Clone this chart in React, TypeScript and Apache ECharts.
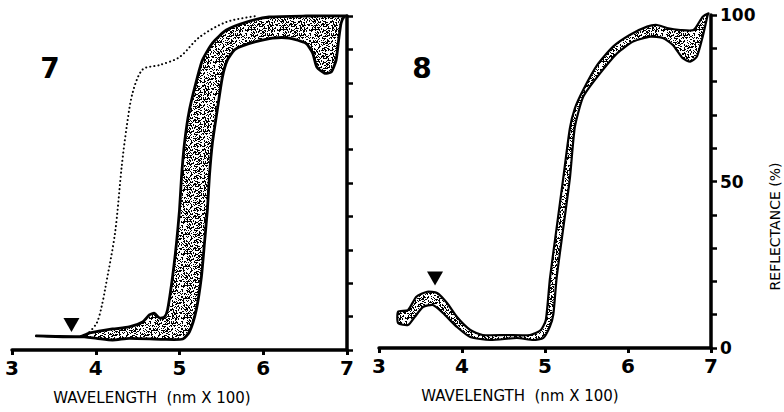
import React, { useEffect, useRef } from 'react';
import * as echarts from 'echarts';

// ---- data ----
const xTickValues = [3, 4, 5, 6, 7];
const yLabelValues = [0, 50, 100];
const panelLabels = ['7', '8'];
const xAxisName = 'WAVELENGTH  (nm X 100)';
const yAxisName = 'REFLECTANCE (%)';

// Panel 7: shaded band (upper edge, lower edge), dotted curve, arrow
const band7Upper: number[][] = [
  [3.29, 4.2], [3.81, 4.0], [3.93, 5.1], [4.2, 6.3], [4.4, 6.9], [4.56, 8.4], [4.64, 10.5],
  [4.7, 11], [4.76, 9.6], [4.82, 9.9], [4.857, 12], [4.917, 21.9], [4.964, 32], [5.0, 41.9],
  [5.024, 51.8], [5.06, 62], [5.119, 71.9], [5.214, 81.7], [5.274, 86.8], [5.393, 91.9],
  [5.56, 95.8], [5.8, 98.2], [6.07, 99.7], [6.51, 100], [7.0, 100],
];
const band7Lower: number[][] = [
  [3.29, 4.2], [3.81, 4.0], [4.01, 3.5], [4.2, 3.0], [4.4, 3.5], [4.8, 3.2], [5.04, 3.3],
  [5.12, 5.5], [5.2, 12], [5.262, 22], [5.298, 32], [5.333, 42], [5.357, 52], [5.393, 62],
  [5.452, 72], [5.512, 81.7], [5.571, 86.8], [5.655, 89.8], [5.75, 91], [5.91, 92.3],
  [6.11, 93.4], [6.31, 93.4], [6.51, 91.8], [6.59, 88.9], [6.64, 84.7], [6.73, 82.9],
  [6.81, 83.2], [6.87, 86.8], [6.9, 92.8], [6.93, 97.9], [6.97, 100],
];
const dotted7: number[][] = [
  [3.89, 4.5], [4.01, 8], [4.07, 13], [4.11, 18], [4.23, 35], [4.31, 55], [4.37, 67],
  [4.44, 77], [4.56, 84], [4.76, 85.3], [5.0, 87.7], [5.24, 93.7], [5.56, 98.2], [5.92, 100],
];
const arrow7: number[][] = [[3.71, 7.5]];

// Panel 8
const band8Upper: number[][] = [
  [3.23, 10.9], [3.35, 11.4], [3.45, 15.4], [3.58, 16.9], [3.7, 16.5], [3.82, 13.5],
  [3.94, 9.3], [4.1, 5.4], [4.25, 3.9], [4.54, 3.9], [4.82, 3.9], [4.95, 5.4], [5.01, 8.4],
  [5.06, 21], [5.14, 36], [5.22, 51], [5.3, 66], [5.36, 72], [5.46, 77.5], [5.63, 85],
  [5.82, 90.5], [6.02, 94], [6.23, 96.5], [6.35, 97], [6.47, 96.1], [6.63, 95.5],
  [6.79, 95.5], [6.9, 99.5], [6.97, 100.5],
];
const band8Lower: number[][] = [
  [3.23, 7.5], [3.35, 6.9], [3.43, 9.3], [3.53, 12.3], [3.65, 12.9], [3.77, 10.5],
  [3.94, 6.3], [4.1, 3.3], [4.34, 2.4], [4.66, 3], [4.86, 2.4], [4.98, 3], [5.06, 6.5],
  [5.1, 10], [5.14, 21], [5.22, 36], [5.3, 51], [5.36, 66.4], [5.46, 75.4], [5.63, 81.4],
  [5.87, 88.5], [6.06, 92], [6.27, 93.5], [6.42, 93.1], [6.54, 91], [6.66, 87], [6.75, 86],
  [6.83, 87.5], [6.9, 93.5], [6.96, 100],
];
const arrow8: number[][] = [[3.675, 20.9]];

const FONT = 'DejaVu Sans';

function makeStipple(): any {
  const size = 32;
  const c = document.createElement('canvas');
  c.width = size;
  c.height = size;
  const ctx = c.getContext('2d')!;
  ctx.fillStyle = '#ffffff';
  ctx.fillRect(0, 0, size, size);
  ctx.fillStyle = '#000000';
  for (let y = 0; y < size; y++) {
    for (let x = 0; x < size; x++) {
      let h = Math.imul(x * 374761393 + y * 668265263, 1274126177) >>> 0;
      h = Math.imul(h ^ (h >>> 13), 1103515245) >>> 0;
      if ((h & 1023) / 1024 < 0.4) ctx.fillRect(x, y, 1, 1);
    }
  }
  return { image: c.toDataURL(), repeat: 'repeat', imageWidth: size, imageHeight: size };
}

function bandSeries(upper: number[][], lower: number[][], gridIdx: number, lw: number, fill: any) {
  const pts = upper.concat(lower.slice().reverse());
  return {
    type: 'custom',
    xAxisIndex: gridIdx,
    yAxisIndex: gridIdx,
    data: pts,
    silent: true,
    renderItem: (params: any, api: any) => {
      if (params.dataIndex !== 0) return null;
      const points = pts.map((p) => api.coord(p));
      return {
        type: 'polygon',
        shape: { points, smooth: 0.2 },
        style: { fill, stroke: '#000', lineWidth: lw, lineJoin: 'round' },
      };
    },
  };
}

export default function App() {
  const ref = useRef<HTMLDivElement>(null);
  useEffect(() => {
    if (!ref.current) return;
    const chart = echarts.init(ref.current, undefined, { renderer: 'svg' });
    const stipple = makeStipple();
    const grids = [
      { left: 12, top: 16, width: 335, height: 334 },
      { left: 379, top: 15, width: 332, height: 333 },
    ];
    const xAxes = [0, 1].map((i) => ({
      type: 'value',
      gridIndex: i,
      min: xTickValues[0],
      max: xTickValues[xTickValues.length - 1],
      interval: 1,
      axisLine: { show: true, lineStyle: { color: '#000', width: 3.5 } },
      axisTick: { show: true, length: 5, lineStyle: { color: '#000', width: 3 } },
      axisLabel: { color: '#000', fontFamily: FONT, fontWeight: 'bold', fontSize: 20, margin: 8 },
      splitLine: { show: false },
      name: xAxisName,
      nameLocation: 'middle',
      nameGap: 40,
      nameTextStyle: {
        color: '#000', fontFamily: FONT, fontSize: 15,
        padding: i === 0 ? [0, 55, 0, 0] : [0, 50, 0, 0],
      },
    }));
    const yAxes = [0, 1].map((i) => ({
      type: 'value',
      gridIndex: i,
      position: 'right',
      min: 0,
      max: 100,
      interval: 10,
      axisLine: { show: true, lineStyle: { color: '#000', width: 3.5 } },
      axisTick: { show: true, length: 6, lineStyle: { color: '#000', width: 2.5 } },
      axisLabel: {
        show: i === 1,
        color: '#000', fontFamily: FONT, fontWeight: 'bold', fontSize: 17, margin: 9,
        formatter: (v: number) => (yLabelValues.includes(v) ? String(v) : ''),
      },
      splitLine: { show: false },
      name: i === 1 ? yAxisName : '',
      nameLocation: 'middle',
      nameRotate: 90,
      nameGap: 57,
      nameTextStyle: {
        color: '#000', fontFamily: FONT, fontSize: 14,
        padding: [0, 90, 0, 0],
      },
    }));
    const option: any = {
      animation: false,
      backgroundColor: '#ffffff',
      grid: grids,
      xAxis: xAxes,
      yAxis: yAxes,
      graphic: [
        {
          type: 'text', x: 50, y: 68,
          style: { text: panelLabels[0], fontFamily: FONT, fontWeight: 'bold', fontSize: 28, fill: '#000', align: 'center', verticalAlign: 'middle', textAlign: 'center', textVerticalAlign: 'middle' },
        },
        {
          type: 'text', x: 422, y: 68,
          style: { text: panelLabels[1], fontFamily: FONT, fontWeight: 'bold', fontSize: 28, fill: '#000', align: 'center', verticalAlign: 'middle', textAlign: 'center', textVerticalAlign: 'middle' },
        },
      ],
      series: [
        {
          type: 'line',
          xAxisIndex: 0,
          yAxisIndex: 0,
          data: dotted7,
          smooth: 0.3,
          showSymbol: false,
          silent: true,
          lineStyle: { color: '#000', width: 2, type: [0.1, 4], cap: 'round' },
        },
        bandSeries(band7Upper, band7Lower, 0, 2.8, stipple),
        bandSeries(band8Upper, band8Lower, 1, 2.2, stipple),
        {
          type: 'scatter', xAxisIndex: 0, yAxisIndex: 0, data: arrow7,
          symbol: 'triangle', symbolRotate: 180, symbolSize: [16, 14],
          itemStyle: { color: '#000', opacity: 1 }, silent: true,
        },
        {
          type: 'scatter', xAxisIndex: 1, yAxisIndex: 1, data: arrow8,
          symbol: 'triangle', symbolRotate: 180, symbolSize: [16, 14],
          itemStyle: { color: '#000', opacity: 1 }, silent: true,
        },
      ],
    };
    chart.setOption(option);
    return () => chart.dispose();
  }, []);
  return <div ref={ref} style={{ position: 'fixed', left: 0, top: 0, width: 784, height: 412 }} />;
}
